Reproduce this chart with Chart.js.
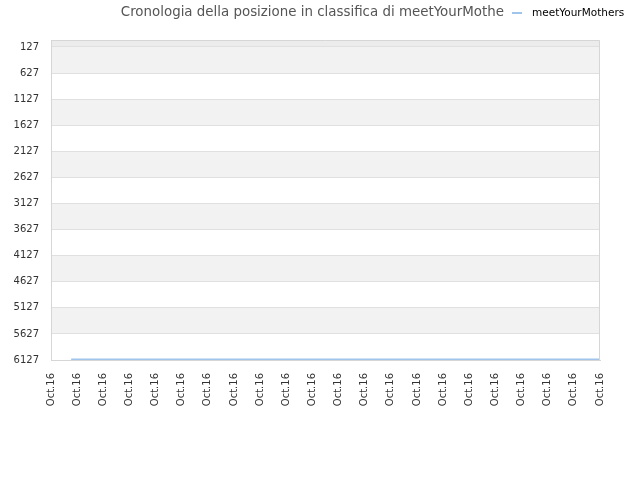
<!DOCTYPE html>
<html>
<head>
<meta charset="utf-8">
<script src="https://cdn.jsdelivr.net/npm/chart.js@4"></script>
<style>
  html, body { margin: 0; padding: 0; background: #fff; }
  #wrap { width: 640px; height: 480px; }
</style>
</head>
<body>
<div id="wrap"><canvas id="rankChart" width="640" height="480"></canvas></div>
<script>
// chart data
const chartTitle = 'Cronologia della posizione in classifica di meetYourMothe';
const seriesName = 'meetYourMothers';
const xLabels = ['Oct.16', 'Oct.16', 'Oct.16', 'Oct.16', 'Oct.16', 'Oct.16', 'Oct.16', 'Oct.16',
    'Oct.16', 'Oct.16', 'Oct.16', 'Oct.16', 'Oct.16', 'Oct.16', 'Oct.16', 'Oct.16',
    'Oct.16', 'Oct.16', 'Oct.16', 'Oct.16', 'Oct.16', 'Oct.16'];
const yTicks = [127, 627, 1127, 1627, 2127, 2627, 3127, 3627, 4127, 4627, 5127, 5627, 6127];
const timePoints = [0.77, 21];
const ranks = [6115, 6115];

const lineColor = '#9fc5ec';

// alternating horizontal bands behind the grid
const bandsPlugin = {
    id: 'bands',
    beforeDraw(chart) {
        const {ctx, chartArea: a, scales: {y}} = chart;
        ctx.save();
        ctx.fillStyle = '#ececec';
        ctx.fillRect(a.left, a.top, a.right - a.left, a.bottom - a.top);
        for (let i = 0; i < yTicks.length - 1; i++) {
            const t = y.getPixelForValue(yTicks[i]);
            const b = y.getPixelForValue(yTicks[i + 1]);
            ctx.fillStyle = i % 2 === 0 ? '#f2f2f2' : '#ffffff';
            ctx.fillRect(a.left, t, a.right - a.left, b - t);
        }
        ctx.restore();
    }
};

// title and legend share one line at the top
const headerPlugin = {
    id: 'header',
    afterDraw(chart) {
        const ctx = chart.ctx;
        ctx.save();
        ctx.textBaseline = 'middle';
        ctx.font = '13.4px "DejaVu Sans"';
        ctx.fillStyle = '#555555';
        ctx.textAlign = 'right';
        ctx.fillText(chartTitle, 504, 13);
        ctx.strokeStyle = lineColor;
        ctx.lineWidth = 2;
        ctx.beginPath();
        ctx.moveTo(512, 13);
        ctx.lineTo(522, 13);
        ctx.stroke();
        ctx.font = '10.5px "DejaVu Sans"';
        ctx.fillStyle = '#000000';
        ctx.textAlign = 'left';
        ctx.fillText(chart.data.datasets[0].label, 532, 13);
        ctx.restore();
    }
};

const ctx = document.getElementById('rankChart').getContext('2d');
const rankChart = new Chart(ctx, {
    type: 'line',
    data: {
        datasets: [{
            label: seriesName,
            data: timePoints.map((x, i) => ({x: x, y: ranks[i]})),
            borderColor: lineColor,
            backgroundColor: lineColor,
            borderWidth: 1.5,
            pointRadius: 0,
            fill: false,
            tension: 0
        }]
    },
    options: {
        responsive: false,
        animation: false,
        layout: {padding: {top: 40, right: 40, left: 0, bottom: 0}},
        plugins: {
            legend: {display: false},
            title: {display: false},
            tooltip: {enabled: false}
        },
        scales: {
            x: {
                type: 'linear',
                min: 0,
                max: xLabels.length - 1,
                afterBuildTicks: s => { s.ticks = xLabels.map((l, i) => ({value: i})); },
                afterFit: s => { s.height = 120; },
                ticks: {
                    autoSkip: false,
                    minRotation: 90,
                    maxRotation: 90,
                    padding: 13,
                    color: '#333',
                    font: {family: 'DejaVu Sans', size: 10},
                    callback: (v, i) => xLabels[i]
                },
                grid: {display: false, drawTicks: false},
                border: {display: true, color: '#d6d6d6'}
            },
            y: {
                reverse: true,
                min: -7,
                max: 6127,
                afterBuildTicks: s => { s.ticks = yTicks.map(v => ({value: v})); },
                afterFit: s => { s.width = 51; },
                ticks: {
                    padding: 12,
                    color: '#333',
                    font: {family: 'DejaVu Sans', size: 10},
                    callback: v => String(v)
                },
                grid: {color: '#e0e0e0', drawTicks: false},
                border: {display: true, color: '#d6d6d6'}
            }
        }
    },
    plugins: [bandsPlugin, headerPlugin, {
        id: 'frame',
        afterDatasetsDraw(chart) {
            const {ctx, chartArea: a} = chart;
            ctx.save();
            ctx.strokeStyle = '#d6d6d6';
            ctx.lineWidth = 1;
            ctx.beginPath();
            ctx.moveTo(a.left + 0.5, a.bottom);
            ctx.lineTo(a.left + 0.5, a.top + 0.5);
            ctx.lineTo(a.right - 0.5, a.top + 0.5);
            ctx.lineTo(a.right - 0.5, a.bottom);
            ctx.stroke();
            ctx.restore();
        }
    }]
});
</script>
</body>
</html>
